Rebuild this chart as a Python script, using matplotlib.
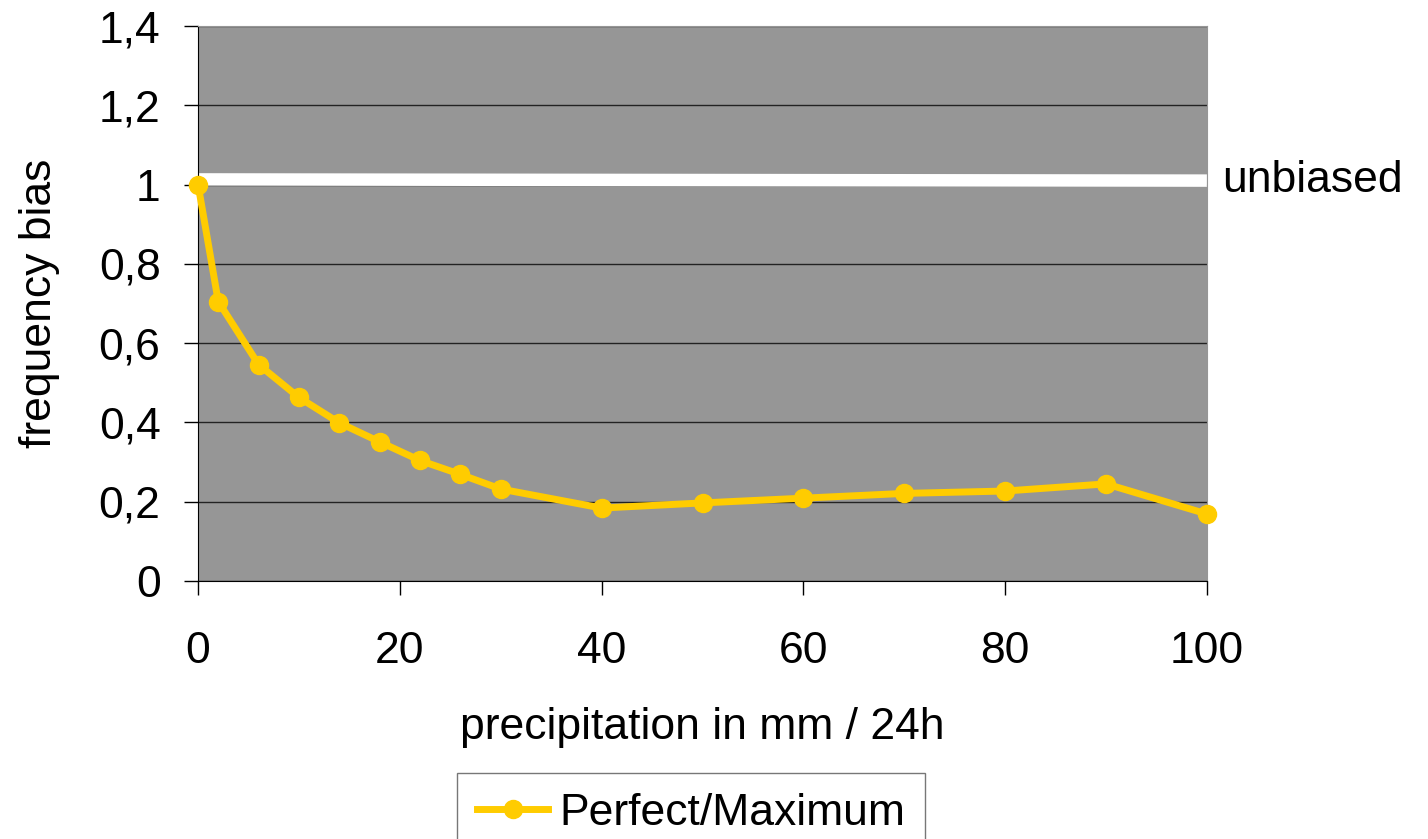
import matplotlib
matplotlib.use("Agg")
import matplotlib.pyplot as plt
from matplotlib.ticker import FuncFormatter

plt.rcParams['font.family'] = ['Liberation Sans', 'DejaVu Sans']

# frequency bias per precipitation threshold
precip = [0, 2, 6, 10, 14, 18, 22, 26, 30, 40, 50, 60, 70, 80, 90, 100]
bias = [1.0, 0.705, 0.546, 0.463, 0.399, 0.351, 0.304, 0.269, 0.232,
        0.184, 0.197, 0.209, 0.221, 0.227, 0.245, 0.169]
unbiased_x = [0, 100]
unbiased_y = [1.013, 1.01]

FS = 32

fig = plt.figure(figsize=(14.28, 8.39), dpi=100)
ax = fig.add_axes([0.1387, 0.3075, 0.7065, 0.6615])
ax.set_facecolor('#969696')

ax.plot(unbiased_x, unbiased_y, color='white', lw=9, solid_capstyle='butt', zorder=2)
ax.plot(precip, bias, color='#FFCC00', lw=5, marker='o', ms=13,
        label='Perfect/Maximum', zorder=3, clip_on=False)

ax.set_xlim(0, 100)
ax.set_ylim(0, 1.4)
ax.set_xticks(range(0, 101, 20))
ax.set_yticks([0, 0.2, 0.4, 0.6, 0.8, 1.0, 1.2, 1.4])
ax.yaxis.set_major_formatter(FuncFormatter(lambda v, p: f"{v:g}".replace('.', ',')))
ax.grid(axis='y', color='#222222', lw=1)
ax.set_axisbelow(True)
ax.tick_params(labelsize=FS, length=10, width=1, color='black')
ax.tick_params(axis='x', pad=26)
ax.tick_params(axis='y', pad=17)

for s in ['top', 'right']:
    ax.spines[s].set_color('#969696')
ax.spines['left'].set_color('black')
ax.spines['bottom'].set_color('black')

ax.set_xlabel('precipitation in mm / 24h', fontsize=FS, labelpad=25)
ax.set_ylabel('frequency bias', fontsize=FS, labelpad=28)

ax.text(1.015, 1.01, 'unbiased', transform=ax.get_yaxis_transform(),
        fontsize=FS, va='center', ha='left')

leg = ax.legend(loc='upper center', bbox_to_anchor=(0.489, -0.346), fontsize=FS,
                frameon=True, fancybox=False, handlelength=1.6, handletextpad=0.25,
                borderpad=0.45, borderaxespad=0)
leg.get_frame().set_edgecolor('#555555')
leg.get_frame().set_linewidth(1)

fig.savefig('out.png', dpi=100)
